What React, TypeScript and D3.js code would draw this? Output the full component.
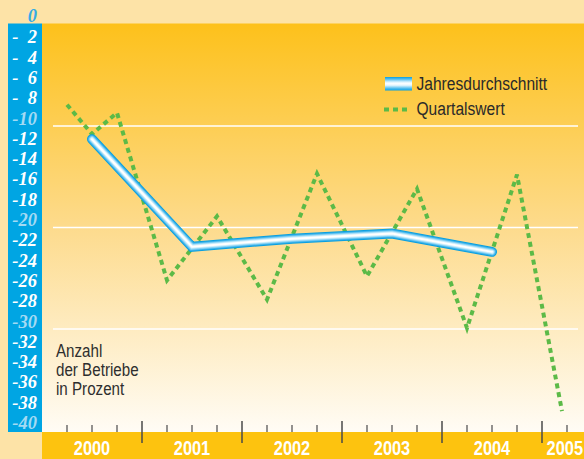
import React from "react";
import * as d3 from "d3";

const W = 584;
const H = 459;

const yearLabels = ["2000", "2001", "2002", "2003", "2004", "2005"];
const yearStarts = [2000, 2001, 2002, 2003, 2004, 2005];
const annualTimes = [2000.5, 2001.5, 2002.5, 2003.5, 2004.5];
const annualValues = [-11.3, -21.9, -21.1, -20.6, -22.4];
const quarterTimes = [2000.25, 2000.5, 2000.75, 2001.25, 2001.75, 2002.25, 2002.75, 2003.25, 2003.75, 2004.25, 2004.75, 2005.2];
const quarterValues = [-7.9, -10.8, -8.7, -25.2, -18.9, -27.1, -14.7, -24.8, -16.2, -29.9, -14.8, -38.1];
const yTickValues = d3.range(0, -41, -2);
const gridValues = [-10, -20, -30];
const legendLabels = ["Jahresdurchschnitt", "Quartalswert"];
const noteLines = ["Anzahl", "der Betriebe", "in Prozent"];

const SANS = "Liberation Sans, Arial, sans-serif";
const SERIF = "Liberation Serif, DejaVu Serif, serif";
const NARROW_K = 0.82;

function NarrowText(props: {
  x: number;
  y: number;
  size: number;
  fill: string;
  bold?: boolean;
  anchor?: "start" | "middle" | "end";
  children: string;
}) {
  return (
    <text
      transform={`translate(${props.x},${props.y}) scale(${NARROW_K},1)`}
      x={0}
      y={0}
      textAnchor={props.anchor || "start"}
      fontFamily={SANS}
      fontWeight={props.bold ? "bold" : "normal"}
      fontSize={props.size}
      fill={props.fill}
    >
      {props.children}
    </text>
  );
}

function yLabel(v: number): string {
  if (v === 0) return "0";
  const n = Math.abs(v);
  return n < 10 ? "-\u2007" + n : "-" + n;
}

export default function App() {
  const x = d3.scaleLinear().domain([2000, 2006]).range([42, 642]);
  const y = d3.scaleLinear().domain([-40, 0]).range([430.5, 24.5]);

  const annualPts: [number, number][] = annualTimes.map((t, i) => [x(t), y(annualValues[i])]);
  const quarterPts: [number, number][] = quarterTimes.map((t, i) => [x(t), y(quarterValues[i])]);
  const line = d3.line<[number, number]>();
  const annualPath = line(annualPts) || "";
  const quarterPath = line(quarterPts) || "";

  const majorTicks = yearStarts.slice(1);
  const minorTicks: number[] = [];
  yearStarts.forEach((yr) => {
    [0.25, 0.5, 0.75].forEach((q) => {
      const t = yr + q;
      if (t < 2005.3) minorTicks.push(t);
    });
  });

  const plotLeft = 42;
  const plotTop = y(0) - 1;
  const plotBottom = 432;

  const blueLayers = [
    { w: 10, c: "#0a9fe0" },
    { w: 8, c: "#3db4eb" },
    { w: 6, c: "#8ad2f4" },
    { w: 4, c: "#cdeefb" },
    { w: 2, c: "#ffffff" },
  ];

  return (
    <svg width={W} height={H} style={{ position: "absolute", left: 0, top: 0, display: "block" }}>
      <defs>
        <linearGradient id="bg" x1="0" y1="0" x2="0" y2="1">
          <stop offset="0%" stopColor="#fdc11b" />
          <stop offset="50%" stopColor="#fddb8d" />
          <stop offset="100%" stopColor="#fffcf5" />
        </linearGradient>
        <linearGradient id="legBlue" x1="0" y1="0" x2="0" y2="1">
          <stop offset="0%" stopColor="#0a9fe0" />
          <stop offset="15%" stopColor="#4ebcee" />
          <stop offset="38%" stopColor="#dff4fd" />
          <stop offset="50%" stopColor="#ffffff" />
          <stop offset="62%" stopColor="#dff4fd" />
          <stop offset="85%" stopColor="#4ebcee" />
          <stop offset="100%" stopColor="#0a9fe0" />
        </linearGradient>
      </defs>

      <rect x={0} y={0} width={W} height={H} fill="#fde3a7" />
      <rect x={plotLeft} y={plotTop} width={W - plotLeft} height={plotBottom - plotTop} fill="url(#bg)" />
      <rect x={plotLeft} y={plotBottom} width={W - plotLeft} height={H - plotBottom} fill="#fdc30f" />
      <rect x={8} y={plotTop} width={plotLeft - 8} height={plotBottom - plotTop} fill="#00a5e3" />

      {gridValues.map((v) => (
        <line key={v} x1={53} x2={578} y1={y(v)} y2={y(v)} stroke="#ffffff" strokeWidth={1.5} />
      ))}

      {yTickValues.map((v) => {
        const by = v === 0 ? y(v) - 3 : y(v) - 1.5;
        const col = v === 0 ? "#35ace4" : v % 10 === 0 ? "#a3daf3" : "#ffffff";
        return (
          <text
            key={v}
            x={37}
            y={by}
            textAnchor="end"
            fontFamily={SERIF}
            fontStyle="italic"
            fontWeight="bold"
            fontSize={18.5}
            fill={col}
            style={{ whiteSpace: "pre" }}
          >
            {yLabel(v)}
          </text>
        );
      })}

      {minorTicks.map((t) => (
        <line key={"m" + t} x1={x(t)} x2={x(t)} y1={425} y2={432} stroke="#4a4a4a" strokeWidth={1.2} />
      ))}
      {majorTicks.map((t) => (
        <line key={"M" + t} x1={x(t)} x2={x(t)} y1={421} y2={443} stroke="#4a4a4a" strokeWidth={1.5} />
      ))}

      {yearStarts.map((yr, i) => {
        const cx = x(yr + 0.5);
        const fits = cx + 18 < W;
        return (
          <NarrowText key={yr} x={fits ? cx : W - 1} y={455} anchor={fits ? "middle" : "end"} size={20} bold fill="#ffffff">
            {yearLabels[i]}
          </NarrowText>
        );
      })}

      <path d={quarterPath} fill="none" stroke="#5cba47" strokeWidth={4} strokeDasharray="5 4" />

      {blueLayers.map((l, i) => (
        <path key={i} d={annualPath} fill="none" stroke={l.c} strokeWidth={l.w} strokeLinecap="round" strokeLinejoin="miter" />
      ))}

      <rect x={385} y={77} width={27} height={13.5} fill="url(#legBlue)" />
      <NarrowText x={416.5} y={90} size={19} fill="#2a2a2a">{legendLabels[0]}</NarrowText>
      <line x1={384} x2={409} y1={109.5} y2={109.5} stroke="#5cba47" strokeWidth={4} strokeDasharray="5 4" />
      <NarrowText x={416.5} y={114.5} size={19} fill="#2a2a2a">{legendLabels[1]}</NarrowText>

      {noteLines.map((s, i) => (
        <NarrowText key={s} x={56} y={357 + i * 19.2} size={18.5} fill="#2e2e2e">
          {s}
        </NarrowText>
      ))}
    </svg>
  );
}
